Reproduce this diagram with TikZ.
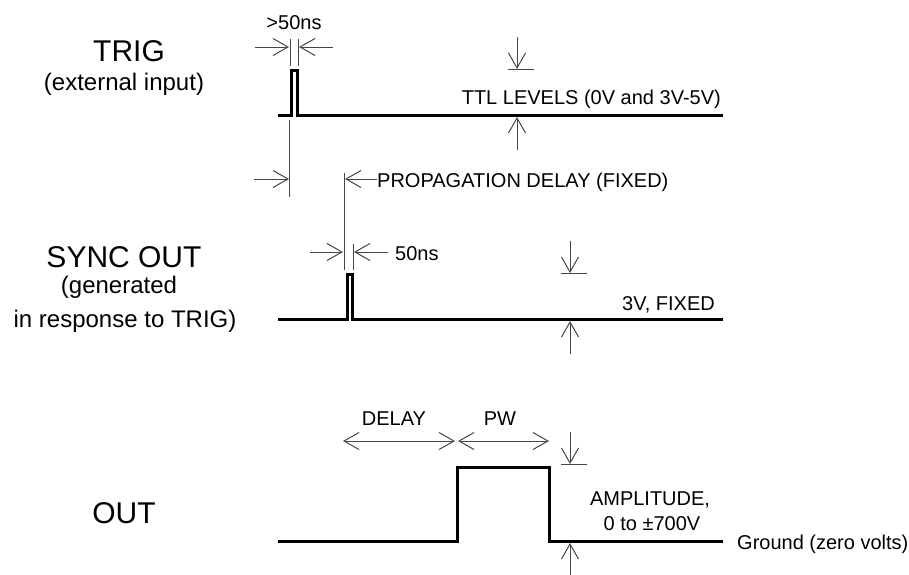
\documentclass[tikz,border=0pt]{standalone}
\usepackage{fontspec}
\setmainfont{Liberation Sans}
\usetikzlibrary{arrows.meta,positioning}
\definecolor{dimgrey}{RGB}{70,70,70}

\tikzset{
  wave/.style={line width=3pt},
  dimline/.style={draw=dimgrey, line width=1pt},
  dimarrow/.style={dimline, -{Straight Barb[length=15pt,width=17pt]}},
  dimboth/.style={dimline, {Straight Barb[length=15pt,width=17pt]}-{Straight Barb[length=15pt,width=17pt]}},
  biglabel/.style={font=\fontsize{30}{34}\selectfont, inner sep=0pt, anchor=base},
  sublabel/.style={font=\fontsize{24}{28}\selectfont, inner sep=0pt, anchor=base},
  note/.style={font=\fontsize{20}{24}\selectfont, inner sep=0pt}
}

\begin{document}
\begin{tikzpicture}[x=1pt, y=-1pt]
  \useasboundingbox (0,0) rectangle (909,574);

  % signal names
  \node[biglabel] (trig) at (129,61) {TRIG};
  \node[sublabel] (trignote) at (124,90) {(external input)};
  \node[biglabel] (sync) at (124,267) {SYNC OUT};
  \node[sublabel] (syncnote) at (119,293) {(generated};
  \node[sublabel] (syncnote2) at (125,327) {in response to TRIG)};
  \node[biglabel] (out) at (124,523) {OUT};

  % waveforms
  \draw[wave] (278,115) -| (291,70) -| (297,115) -- (723,115);
  \draw[wave] (278,319) -| (347,274) -| (352,319) -- (723,319);
  \draw[wave] (278,541) -| (457,467) -| (549,541) -- (723,541);

  % trigger width
  \coordinate (tw1) at (289,47);
  \coordinate (tw2) at (299,47);
  \draw[dimline] (290,39) -- (290,66);
  \draw[dimline] (298,39) -- (298,66);
  \draw[dimarrow] (255,47) -- (tw1);
  \draw[dimarrow] (333,47) -- (tw2);
  \node[note, anchor=base] (trigwidth) at (294,29) {>50ns};

  % propagation delay
  \coordinate (pd1) at (289,179);
  \coordinate (pd2) at (345,179);
  \draw[dimline] (289,120) -- (289,197);
  \draw[dimline] (344,173) -- (344,270);
  \draw[dimarrow] (254,179) -- (pd1);
  \draw[dimarrow] (377,179) -- (pd2);
  \node[note, anchor=base west] (propdelay) at (377,187) {PROPAGATION DELAY (FIXED)};

  % sync width
  \coordinate (sw1) at (343,252);
  \coordinate (sw2) at (354,252);
  \draw[dimline] (353,244) -- (353,270);
  \draw[dimarrow] (310,252) -- (sw1);
  \draw[dimarrow] (388,252) -- (sw2);
  \node[note, anchor=base west] (syncwidth) at (395,260) {50ns};

  % level markers
  \foreach \x/\hi/\lo [count=\i] in {517/69/117, 570/273/321, 570/464/543} {
    \coordinate (hi\i) at (\x,\hi);
    \coordinate (lo\i) at (\x,\lo);
    \draw[dimarrow] (\x,\hi-32) -- (hi\i);
    \draw[dimline] (\x-9,\hi) -- (\x+17,\hi);
    \draw[dimarrow] (\x,\lo+33) -- (lo\i);
  }
  \node[note, anchor=base east] (ttl) at (721,104) {TTL LEVELS (0V and 3V-5V)};
  \node[note, anchor=base east] (fixed) at (715,310) {3V, FIXED};

  % output timing
  \coordinate (d1) at (343,441);
  \coordinate (d2) at (455,441);
  \coordinate (p1) at (458,441);
  \coordinate (p2) at (549,441);
  \draw[dimboth] (d1) -- (d2);
  \draw[dimboth] (p1) -- (p2);
  \node[note, anchor=base] (delay) at (394,425) {DELAY};
  \node[note, anchor=base] (pw) at (500,425) {PW};
  \node[note, anchor=base] (amp) at (650,505) {AMPLITUDE,};
  \node[note, anchor=base] (amprange) at (652,530) {0 to ±700V};
  \node[note, anchor=base west] (ground) at (737,549) {Ground (zero volts)};
\end{tikzpicture}
\end{document}
